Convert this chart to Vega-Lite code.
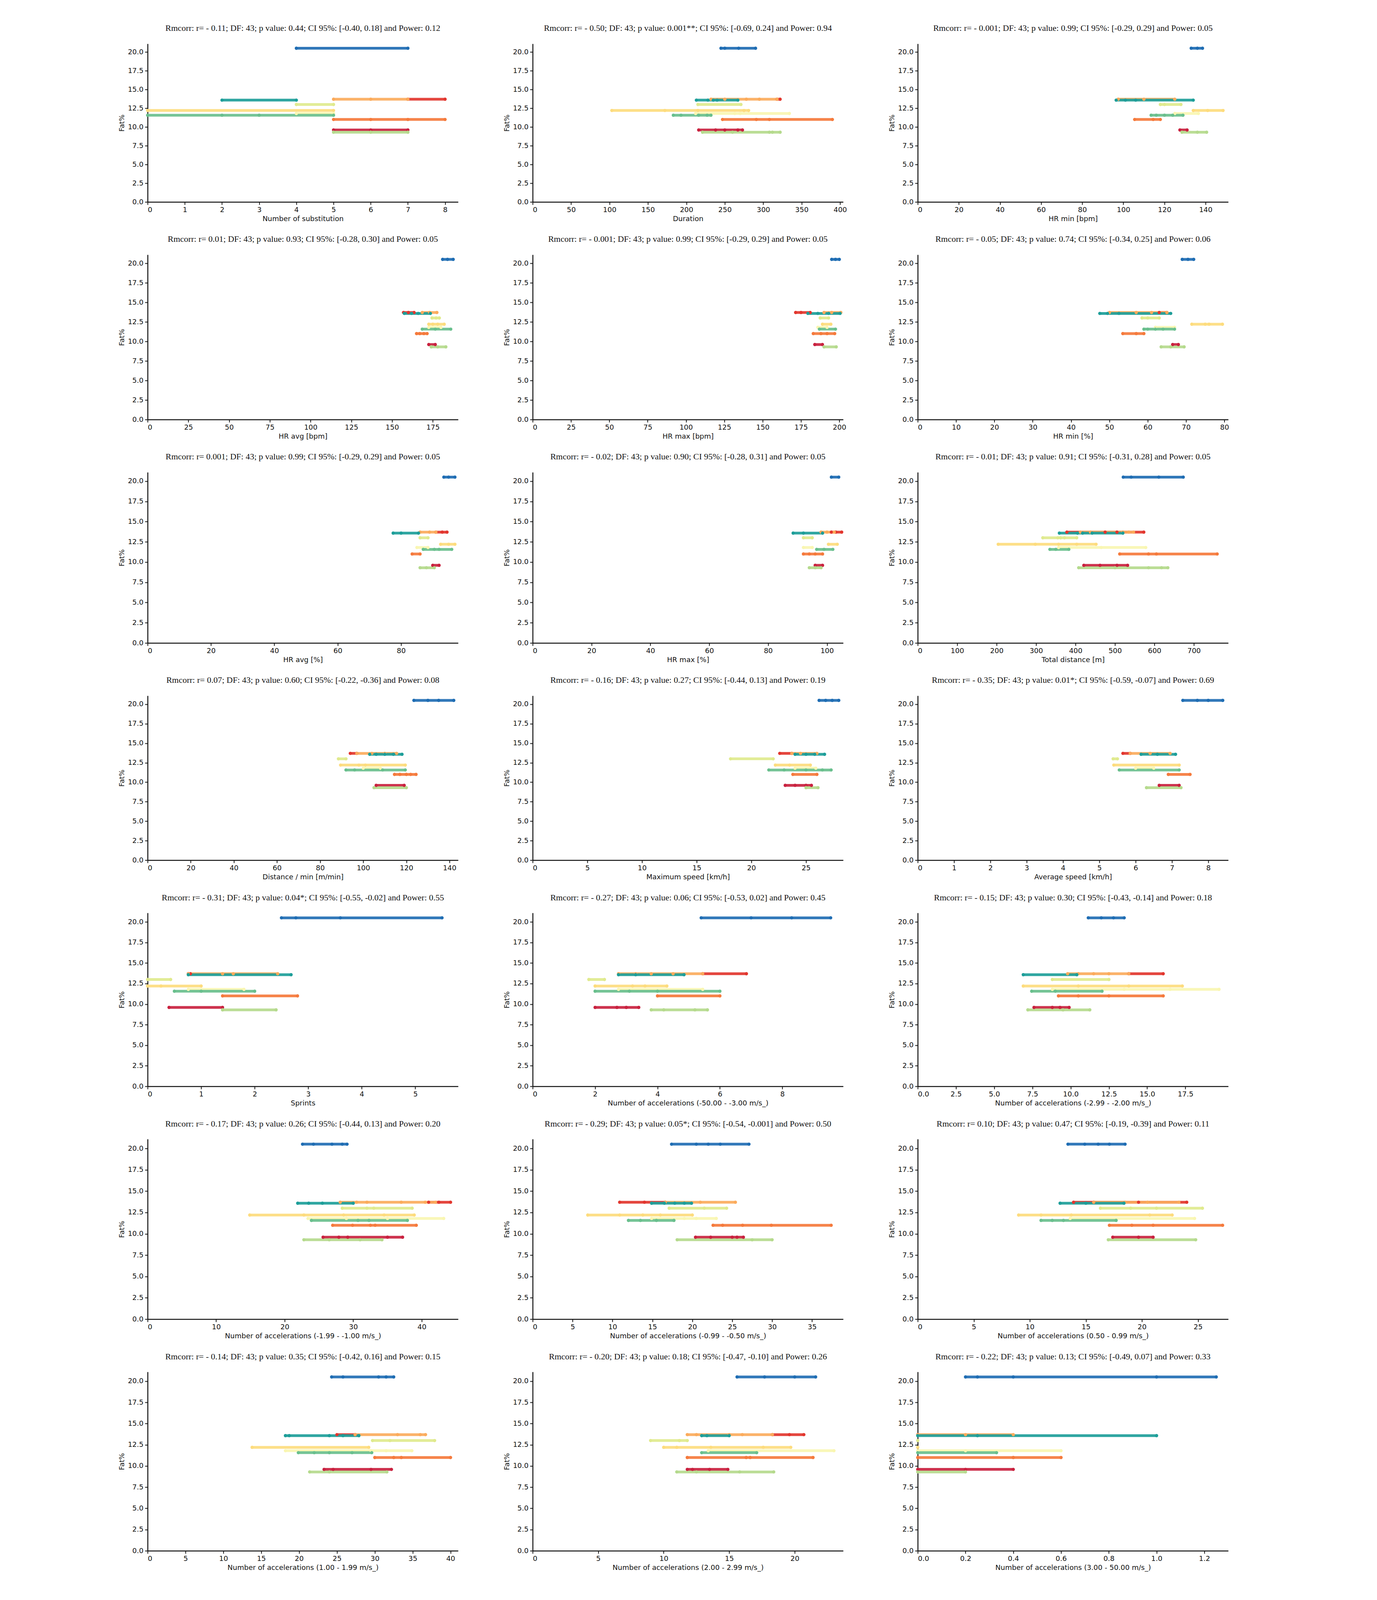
{
"$schema":"https://vega.github.io/schema/vega-lite/v6.json",
"background":"white",
"padding":{"left":303,"top":60,"right":10,"bottom":10},
"bounds":"flush",
"columns":3,
"spacing":{"row":135,"column":191},
"datasets":{
"subj":[{"s":"a","fat":20.5},{"s":"c","fat":13.7},{"s":"b","fat":13.7},{"s":"d","fat":13.58},{"s":"e","fat":13.0},{"s":"f","fat":12.2},{"s":"g","fat":11.8},{"s":"h","fat":11.57},{"s":"i","fat":11.0},{"s":"j","fat":9.6},{"s":"k","fat":9.3}],
"obs":[
{"p":1,"s":"a","xs":[4,7]},{"p":1,"s":"c","xs":[7,8]},{"p":1,"s":"b","xs":[5,6,7]},{"p":1,"s":"d","xs":[2,4]},{"p":1,"s":"e","xs":[4,5]},{"p":1,"s":"f","xs":[0,5]},{"p":1,"s":"g","xs":[4,5]},{"p":1,"s":"h","xs":[0,2,3,5]},{"p":1,"s":"i","xs":[5,6,7,8]},{"p":1,"s":"j","xs":[5,6,7]},{"p":1,"s":"k","xs":[5,6,7]},
{"p":2,"s":"a","xs":[245,250,268,290]},{"p":2,"s":"c","xs":[318,322]},{"p":2,"s":"b","xs":[232,250,278,295,318]},{"p":2,"s":"d","xs":[213,228,235,240,267]},{"p":2,"s":"e","xs":[215,271]},{"p":2,"s":"f","xs":[103,172,215,275,281]},{"p":2,"s":"g","xs":[212,263,270,334]},{"p":2,"s":"h","xs":[183,193,216,227,232]},{"p":2,"s":"i","xs":[247,291,308,390]},{"p":2,"s":"j","xs":[216,238,250,267,273]},{"p":2,"s":"k","xs":[221,260,308,312,322]},
{"p":3,"s":"a","xs":[133,136,138.5]},{"p":3,"s":"b","xs":[97.5,110,125]},{"p":3,"s":"d","xs":[96.5,101,106,134]},{"p":3,"s":"e","xs":[118,120,128]},{"p":3,"s":"f","xs":[134,141,148.5]},{"p":3,"s":"g","xs":[125,136.5]},{"p":3,"s":"h","xs":[113.5,116,120,124,129]},{"p":3,"s":"i","xs":[105.5,114.5,118]},{"p":3,"s":"j","xs":[127.5,131]},{"p":3,"s":"k","xs":[128.5,136,140.5]},
{"p":4,"s":"a","xs":[181,184,187.5]},{"p":4,"s":"c","xs":[157,160,163.5]},{"p":4,"s":"b","xs":[168.5,173,177.5]},{"p":4,"s":"d","xs":[157.5,162,166,173.5]},{"p":4,"s":"e","xs":[174.5,177,179]},{"p":4,"s":"f","xs":[172.5,175,178,182]},{"p":4,"s":"g","xs":[172.5,180]},{"p":4,"s":"h","xs":[168.5,176.5,186]},{"p":4,"s":"i","xs":[165,167,169.5,171.5]},{"p":4,"s":"j","xs":[172.5,176.5]},{"p":4,"s":"k","xs":[174,178,183]},
{"p":5,"s":"a","xs":[195,197.5,200]},{"p":5,"s":"c","xs":[171.5,175,181]},{"p":5,"s":"b","xs":[190,195,201]},{"p":5,"s":"d","xs":[179.5,186,193,200.5]},{"p":5,"s":"e","xs":[187.5,193]},{"p":5,"s":"f","xs":[189,194.5]},{"p":5,"s":"g","xs":[186,192]},{"p":5,"s":"h","xs":[187,197.5]},{"p":5,"s":"i","xs":[183,188,192,197]},{"p":5,"s":"j","xs":[184,189]},{"p":5,"s":"k","xs":[190,198]},
{"p":6,"s":"a","xs":[69,70.5,72]},{"p":6,"s":"c","xs":[63,65]},{"p":6,"s":"b","xs":[50,57,61,65]},{"p":6,"s":"d","xs":[47.5,49.5,52.5,66]},{"p":6,"s":"e","xs":[58.5,60,63]},{"p":6,"s":"f","xs":[71.5,75,76,79.5]},{"p":6,"s":"g","xs":[62,67]},{"p":6,"s":"h","xs":[59,60,62,64,67]},{"p":6,"s":"i","xs":[53.5,57,59]},{"p":6,"s":"j","xs":[66.5,68]},{"p":6,"s":"k","xs":[63.5,66,69.5]},
{"p":7,"s":"a","xs":[93.5,95,97]},{"p":7,"s":"c","xs":[91,93,94.5]},{"p":7,"s":"b","xs":[86,89,91]},{"p":7,"s":"d","xs":[77.5,80,85.5]},{"p":7,"s":"e","xs":[86,88.5]},{"p":7,"s":"f","xs":[92.5,95,97]},{"p":7,"s":"g","xs":[85,88.5]},{"p":7,"s":"h","xs":[87,90.5,92,96]},{"p":7,"s":"i","xs":[83.5,86]},{"p":7,"s":"j","xs":[90,92]},{"p":7,"s":"k","xs":[86,88,90.5]},
{"p":8,"s":"a","xs":[101.5,104]},{"p":8,"s":"c","xs":[101.5,103,105]},{"p":8,"s":"b","xs":[98,100,102.5]},{"p":8,"s":"d","xs":[88.5,92,98.5]},{"p":8,"s":"e","xs":[92,95]},{"p":8,"s":"f","xs":[100.5,103.5]},{"p":8,"s":"g","xs":[92,95]},{"p":8,"s":"h","xs":[96.5,99,102]},{"p":8,"s":"i","xs":[92,94,96,98.5]},{"p":8,"s":"j","xs":[96,98.5]},{"p":8,"s":"k","xs":[94,96,98]},
{"p":9,"s":"a","xs":[521,541,611,673]},{"p":9,"s":"c","xs":[378,475,505,573]},{"p":9,"s":"b","xs":[412,438,520,535,547]},{"p":9,"s":"d","xs":[359,405,418,442,520]},{"p":9,"s":"e","xs":[317,355,362,372,403]},{"p":9,"s":"f","xs":[204,298,357,403,452]},{"p":9,"s":"g","xs":[357,465,578]},{"p":9,"s":"h","xs":[335,350,383]},{"p":9,"s":"i","xs":[512,585,605,759]},{"p":9,"s":"j","xs":[421,462,505,532]},{"p":9,"s":"k","xs":[408,500,585,618,634]},
{"p":10,"s":"a","xs":[123.5,130,135,142]},{"p":10,"s":"c","xs":[94,97]},{"p":10,"s":"b","xs":[97,104,110,115.5]},{"p":10,"s":"d","xs":[103,106,110,114,118]},{"p":10,"s":"e","xs":[88.5,92]},{"p":10,"s":"f","xs":[89.5,98,101,119.5]},{"p":10,"s":"g","xs":[100,108]},{"p":10,"s":"h","xs":[92,96,109,119.5]},{"p":10,"s":"i","xs":[114.5,117,120,122,124.5]},{"p":10,"s":"j","xs":[106,119]},{"p":10,"s":"k","xs":[105,120]},
{"p":11,"s":"a","xs":[26.2,26.8,27.4,28]},{"p":11,"s":"c","xs":[22.6,23.7]},{"p":11,"s":"b","xs":[23.7,24.5,26]},{"p":11,"s":"d","xs":[24,25,25.8,26.7]},{"p":11,"s":"e","xs":[18.1,22]},{"p":11,"s":"f","xs":[22.2,23.5,25.4]},{"p":11,"s":"g","xs":[24,25.9]},{"p":11,"s":"h","xs":[21.6,23,25,26.5,27.3]},{"p":11,"s":"i","xs":[23.8,26]},{"p":11,"s":"j","xs":[23.1,24,25,25.5]},{"p":11,"s":"k","xs":[25,26.1]},
{"p":12,"s":"a","xs":[7.3,7.7,8.0,8.4]},{"p":12,"s":"c","xs":[5.65,5.85]},{"p":12,"s":"b","xs":[5.85,6.4,6.95]},{"p":12,"s":"d","xs":[6.15,6.6,7.1]},{"p":12,"s":"e","xs":[5.38,5.5]},{"p":12,"s":"f","xs":[5.4,7.2]},{"p":12,"s":"g","xs":[6,6.5]},{"p":12,"s":"h","xs":[5.55,7.2]},{"p":12,"s":"i","xs":[6.9,7.5]},{"p":12,"s":"j","xs":[6.65,7.2]},{"p":12,"s":"k","xs":[6.3,7.25]},
{"p":13,"s":"a","xs":[2.5,2.77,3.6,5.5]},{"p":13,"s":"c","xs":[0.76,0.8]},{"p":13,"s":"b","xs":[0.76,1.4,1.6,2.43]},{"p":13,"s":"d","xs":[0.76,2.68]},{"p":13,"s":"e","xs":[0,0.43]},{"p":13,"s":"f","xs":[0,0.25,1]},{"p":13,"s":"g","xs":[0.76,1.8]},{"p":13,"s":"h","xs":[0.5,1,2]},{"p":13,"s":"i","xs":[1.4,2.8]},{"p":13,"s":"j","xs":[0.4,1.4]},{"p":13,"s":"k","xs":[1.4,2.4]},
{"p":14,"s":"a","xs":[5.4,7.0,8.3,9.55]},{"p":14,"s":"c","xs":[5.45,6.85]},{"p":14,"s":"b","xs":[2.75,3.3,3.8,4.5,5.45]},{"p":14,"s":"d","xs":[2.75,3.3,4.85]},{"p":14,"s":"e","xs":[1.8,2.3]},{"p":14,"s":"f","xs":[2.0,3.2,3.6,4.3]},{"p":14,"s":"g","xs":[2.75,5.45]},{"p":14,"s":"h","xs":[2.0,3.1,4.0,6.0]},{"p":14,"s":"i","xs":[4.0,6.0]},{"p":14,"s":"j","xs":[2.0,2.7,3.0,3.4]},{"p":14,"s":"k","xs":[3.8,4.2,5.2,5.6]},
{"p":15,"s":"a","xs":[11.15,12,12.8,13.5]},{"p":15,"s":"c","xs":[13.8,16.05]},{"p":15,"s":"b","xs":[9.8,10.5,11.5,12.5,13.8]},{"p":15,"s":"d","xs":[6.9,10.4]},{"p":15,"s":"e","xs":[8.8,12.5]},{"p":15,"s":"f","xs":[6.9,10.5,13.8,17.3]},{"p":15,"s":"g","xs":[8.8,13.5,16.5,19.7]},{"p":15,"s":"h","xs":[7.45,9,12.05]},{"p":15,"s":"i","xs":[9.2,10.5,12.5,16.05]},{"p":15,"s":"j","xs":[7.6,8.8,9.3,9.9]},{"p":15,"s":"k","xs":[7.2,9.5,11.25]},
{"p":16,"s":"a","xs":[22.6,24.2,26.9,28.4,29.1]},{"p":16,"s":"c","xs":[41,42.5,44.2]},{"p":16,"s":"b","xs":[28.1,30.5,32,37,40.5,42]},{"p":16,"s":"d","xs":[21.9,23.5,25.5,30]},{"p":16,"s":"e","xs":[28.4,32,33,38.6]},{"p":16,"s":"f","xs":[14.9,22.8,28.6,34.5,38.9]},{"p":16,"s":"g","xs":[23.4,29,35,43.2]},{"p":16,"s":"h","xs":[23.9,30.7,32.3,37.9]},{"p":16,"s":"i","xs":[27,29.9,32.5,33.2,39.2]},{"p":16,"s":"j","xs":[25.6,27.9,29.2,35,37.2]},{"p":16,"s":"k","xs":[22.8,26.5,31,34.2]},
{"p":17,"s":"a","xs":[17.4,20.5,22,23.5,27.1]},{"p":17,"s":"c","xs":[10.9,14,16.6]},{"p":17,"s":"b","xs":[16.6,21,25.4]},{"p":17,"s":"d","xs":[14.9,16.5,17.8,19,19.9]},{"p":17,"s":"e","xs":[17.1,21.5,24.3]},{"p":17,"s":"f","xs":[6.9,10.9,13.8,16,20]},{"p":17,"s":"g","xs":[14.9,19,20.5,23]},{"p":17,"s":"h","xs":[12,13.5,15.5,17.7]},{"p":17,"s":"i","xs":[22.6,23.8,26.3,29.9,37.4]},{"p":17,"s":"j","xs":[20.4,22.3,25,25.6,26.4]},{"p":17,"s":"k","xs":[18.1,27.5,30]},
{"p":18,"s":"a","xs":[13.4,14.9,16.1,17.1,18.5]},{"p":18,"s":"c","xs":[13.9,15.7,19.7,24]},{"p":18,"s":"b","xs":[15.7,18.5,20.5,23.3]},{"p":18,"s":"d","xs":[12.7,15,18.4]},{"p":18,"s":"e","xs":[16.3,19,21.3,25.4]},{"p":18,"s":"f","xs":[9,11,13.7,20.7,22.7]},{"p":18,"s":"g","xs":[13.6,24.7]},{"p":18,"s":"h","xs":[11,12,13,17.7]},{"p":18,"s":"i","xs":[17.1,19.1,21,27.2]},{"p":18,"s":"j","xs":[17.4,19.7,21]},{"p":18,"s":"k","xs":[17,24.8]},
{"p":19,"s":"a","xs":[24.3,25.8,30.5,31.5,32.5]},{"p":19,"s":"c","xs":[25,27.4]},{"p":19,"s":"b","xs":[27.4,33,36,36.7]},{"p":19,"s":"d","xs":[18.2,18.7,24,25.8,27.9]},{"p":19,"s":"e","xs":[29.7,32,37.9]},{"p":19,"s":"f","xs":[13.8,29.2]},{"p":19,"s":"g","xs":[18.2,29.5,31.5,34.9]},{"p":19,"s":"h","xs":[19.9,22,24,27,29.6]},{"p":19,"s":"i","xs":[30,32.5,33.5,40]},{"p":19,"s":"j","xs":[23.3,24.5,29.5,32.2]},{"p":19,"s":"k","xs":[21.4,24,31.6]},
{"p":20,"s":"a","xs":[15.6,17.7,20,21.6]},{"p":20,"s":"c","xs":[18.3,19.6,20.7]},{"p":20,"s":"b","xs":[11.8,12.5,15,16,18.3]},{"p":20,"s":"d","xs":[12.9,13.3,15]},{"p":20,"s":"e","xs":[9,11.2,11.8]},{"p":20,"s":"f","xs":[10,11,13.6,17.6,19.7]},{"p":20,"s":"g","xs":[13.4,23]},{"p":20,"s":"h","xs":[12.9,17.1]},{"p":20,"s":"i","xs":[11.8,16.3,16.6,21.4]},{"p":20,"s":"j","xs":[11.8,12.2,13.5,14.9]},{"p":20,"s":"k","xs":[11,12.5,15.8,18.4]},
{"p":21,"s":"a","xs":[0.2,0.25,0.4,1.0,1.25]},{"p":21,"s":"c","xs":[0]},{"p":21,"s":"b","xs":[0,0.2,0.4]},{"p":21,"s":"d","xs":[0,0.25,1.0]},{"p":21,"s":"e","xs":[0]},{"p":21,"s":"f","xs":[0]},{"p":21,"s":"g","xs":[0,0.2,0.6]},{"p":21,"s":"h","xs":[0,0.33]},{"p":21,"s":"i","xs":[0,0.4,0.6]},{"p":21,"s":"j","xs":[0,0.2,0.4]},{"p":21,"s":"k","xs":[0,0.2]}
]},
"concat":[
{"title":"Rmcorr:  r= - 0.11; DF: 43;  p value: 0.44; CI 95%: [-0.40, 0.18] and Power: 0.12","width":795,"height":405,"data":{"name":"obs"},"transform":[{"filter":"datum.p==1"},{"flatten":["xs"],"as":["x"]},{"lookup":"s","from":{"data":{"name":"subj"},"key":"s","fields":["fat"]}}],"encoding":{"x":{"field":"x","type":"quantitative","scale":{"domain":[0,8.35],"nice":false,"zero":false},"axis":{"title":"Number of substitution","values":[0,1,2,3,4,5,6,7,8]}},"y":{"field":"fat","type":"quantitative","scale":{"domain":[0,21.1],"nice":false},"axis":{"title":"Fat%","values":[0,2.5,5,7.5,10,12.5,15,17.5,20],"format":".1f"}},"color":{"field":"s","type":"nominal","scale":{"domain":["a","c","b","d","e","f","g","h","i","j","k"],"range":["#1f6db3","#e2362e","#fbab5c","#1d9e99","#e0ea8e","#fddc7e","#f9f6b2","#69bf8d","#f57a3c","#c9223f","#b5da8d"]},"legend":null}},"layer":[{"mark":{"type":"line","strokeWidth":7,"opacity":0.92}},{"mark":{"type":"circle","size":70,"opacity":1}}]},
{"title":"Rmcorr:  r= - 0.50; DF: 43;  p value: 0.001**; CI 95%: [-0.69, 0.24] and Power: 0.94","width":795,"height":405,"data":{"name":"obs"},"transform":[{"filter":"datum.p==2"},{"flatten":["xs"],"as":["x"]},{"lookup":"s","from":{"data":{"name":"subj"},"key":"s","fields":["fat"]}}],"encoding":{"x":{"field":"x","type":"quantitative","scale":{"domain":[0,404],"nice":false,"zero":false},"axis":{"title":"Duration","values":[0,50,100,150,200,250,300,350,400]}},"y":{"field":"fat","type":"quantitative","scale":{"domain":[0,21.1],"nice":false},"axis":{"title":"Fat%","values":[0,2.5,5,7.5,10,12.5,15,17.5,20],"format":".1f"}},"color":{"field":"s","type":"nominal","scale":{"domain":["a","c","b","d","e","f","g","h","i","j","k"],"range":["#1f6db3","#e2362e","#fbab5c","#1d9e99","#e0ea8e","#fddc7e","#f9f6b2","#69bf8d","#f57a3c","#c9223f","#b5da8d"]},"legend":null}},"layer":[{"mark":{"type":"line","strokeWidth":7,"opacity":0.92}},{"mark":{"type":"circle","size":70,"opacity":1}}]},
{"title":"Rmcorr:  r= - 0.001; DF: 43;  p value: 0.99; CI 95%: [-0.29, 0.29] and Power: 0.05","width":795,"height":405,"data":{"name":"obs"},"transform":[{"filter":"datum.p==3"},{"flatten":["xs"],"as":["x"]},{"lookup":"s","from":{"data":{"name":"subj"},"key":"s","fields":["fat"]}}],"encoding":{"x":{"field":"x","type":"quantitative","scale":{"domain":[0,151],"nice":false,"zero":false},"axis":{"title":"HR min [bpm]","values":[0,20,40,60,80,100,120,140]}},"y":{"field":"fat","type":"quantitative","scale":{"domain":[0,21.1],"nice":false},"axis":{"title":"Fat%","values":[0,2.5,5,7.5,10,12.5,15,17.5,20],"format":".1f"}},"color":{"field":"s","type":"nominal","scale":{"domain":["a","c","b","d","e","f","g","h","i","j","k"],"range":["#1f6db3","#e2362e","#fbab5c","#1d9e99","#e0ea8e","#fddc7e","#f9f6b2","#69bf8d","#f57a3c","#c9223f","#b5da8d"]},"legend":null}},"layer":[{"mark":{"type":"line","strokeWidth":7,"opacity":0.92}},{"mark":{"type":"circle","size":70,"opacity":1}}]},
{"title":"Rmcorr:  r= 0.01; DF: 43;  p value: 0.93; CI 95%: [-0.28, 0.30] and Power: 0.05","width":795,"height":422,"data":{"name":"obs"},"transform":[{"filter":"datum.p==4"},{"flatten":["xs"],"as":["x"]},{"lookup":"s","from":{"data":{"name":"subj"},"key":"s","fields":["fat"]}}],"encoding":{"x":{"field":"x","type":"quantitative","scale":{"domain":[0,190.5],"nice":false,"zero":false},"axis":{"title":"HR avg [bpm]","values":[0,25,50,75,100,125,150,175]}},"y":{"field":"fat","type":"quantitative","scale":{"domain":[0,21.1],"nice":false},"axis":{"title":"Fat%","values":[0,2.5,5,7.5,10,12.5,15,17.5,20],"format":".1f"}},"color":{"field":"s","type":"nominal","scale":{"domain":["a","c","b","d","e","f","g","h","i","j","k"],"range":["#1f6db3","#e2362e","#fbab5c","#1d9e99","#e0ea8e","#fddc7e","#f9f6b2","#69bf8d","#f57a3c","#c9223f","#b5da8d"]},"legend":null}},"layer":[{"mark":{"type":"line","strokeWidth":7,"opacity":0.92}},{"mark":{"type":"circle","size":70,"opacity":1}}]},
{"title":"Rmcorr:  r= - 0.001; DF: 43;  p value: 0.99; CI 95%: [-0.29, 0.29] and Power: 0.05","width":795,"height":422,"data":{"name":"obs"},"transform":[{"filter":"datum.p==5"},{"flatten":["xs"],"as":["x"]},{"lookup":"s","from":{"data":{"name":"subj"},"key":"s","fields":["fat"]}}],"encoding":{"x":{"field":"x","type":"quantitative","scale":{"domain":[0,202.5],"nice":false,"zero":false},"axis":{"title":"HR max [bpm]","values":[0,25,50,75,100,125,150,175,200]}},"y":{"field":"fat","type":"quantitative","scale":{"domain":[0,21.1],"nice":false},"axis":{"title":"Fat%","values":[0,2.5,5,7.5,10,12.5,15,17.5,20],"format":".1f"}},"color":{"field":"s","type":"nominal","scale":{"domain":["a","c","b","d","e","f","g","h","i","j","k"],"range":["#1f6db3","#e2362e","#fbab5c","#1d9e99","#e0ea8e","#fddc7e","#f9f6b2","#69bf8d","#f57a3c","#c9223f","#b5da8d"]},"legend":null}},"layer":[{"mark":{"type":"line","strokeWidth":7,"opacity":0.92}},{"mark":{"type":"circle","size":70,"opacity":1}}]},
{"title":"Rmcorr:  r= - 0.05; DF: 43;  p value: 0.74; CI 95%: [-0.34, 0.25] and Power: 0.06","width":795,"height":422,"data":{"name":"obs"},"transform":[{"filter":"datum.p==6"},{"flatten":["xs"],"as":["x"]},{"lookup":"s","from":{"data":{"name":"subj"},"key":"s","fields":["fat"]}}],"encoding":{"x":{"field":"x","type":"quantitative","scale":{"domain":[0,81],"nice":false,"zero":false},"axis":{"title":"HR min [%]","values":[0,10,20,30,40,50,60,70,80]}},"y":{"field":"fat","type":"quantitative","scale":{"domain":[0,21.1],"nice":false},"axis":{"title":"Fat%","values":[0,2.5,5,7.5,10,12.5,15,17.5,20],"format":".1f"}},"color":{"field":"s","type":"nominal","scale":{"domain":["a","c","b","d","e","f","g","h","i","j","k"],"range":["#1f6db3","#e2362e","#fbab5c","#1d9e99","#e0ea8e","#fddc7e","#f9f6b2","#69bf8d","#f57a3c","#c9223f","#b5da8d"]},"legend":null}},"layer":[{"mark":{"type":"line","strokeWidth":7,"opacity":0.92}},{"mark":{"type":"circle","size":70,"opacity":1}}]},
{"title":"Rmcorr:  r= 0.001; DF: 43;  p value: 0.99; CI 95%: [-0.29, 0.29] and Power: 0.05","width":795,"height":437,"data":{"name":"obs"},"transform":[{"filter":"datum.p==7"},{"flatten":["xs"],"as":["x"]},{"lookup":"s","from":{"data":{"name":"subj"},"key":"s","fields":["fat"]}}],"encoding":{"x":{"field":"x","type":"quantitative","scale":{"domain":[0,98],"nice":false,"zero":false},"axis":{"title":"HR avg [%]","values":[0,20,40,60,80]}},"y":{"field":"fat","type":"quantitative","scale":{"domain":[0,21.1],"nice":false},"axis":{"title":"Fat%","values":[0,2.5,5,7.5,10,12.5,15,17.5,20],"format":".1f"}},"color":{"field":"s","type":"nominal","scale":{"domain":["a","c","b","d","e","f","g","h","i","j","k"],"range":["#1f6db3","#e2362e","#fbab5c","#1d9e99","#e0ea8e","#fddc7e","#f9f6b2","#69bf8d","#f57a3c","#c9223f","#b5da8d"]},"legend":null}},"layer":[{"mark":{"type":"line","strokeWidth":7,"opacity":0.92}},{"mark":{"type":"circle","size":70,"opacity":1}}]},
{"title":"Rmcorr:  r= - 0.02; DF: 43;  p value: 0.90; CI 95%: [-0.28, 0.31] and Power: 0.05","width":795,"height":437,"data":{"name":"obs"},"transform":[{"filter":"datum.p==8"},{"flatten":["xs"],"as":["x"]},{"lookup":"s","from":{"data":{"name":"subj"},"key":"s","fields":["fat"]}}],"encoding":{"x":{"field":"x","type":"quantitative","scale":{"domain":[0,105.5],"nice":false,"zero":false},"axis":{"title":"HR max [%]","values":[0,20,40,60,80,100]}},"y":{"field":"fat","type":"quantitative","scale":{"domain":[0,21.1],"nice":false},"axis":{"title":"Fat%","values":[0,2.5,5,7.5,10,12.5,15,17.5,20],"format":".1f"}},"color":{"field":"s","type":"nominal","scale":{"domain":["a","c","b","d","e","f","g","h","i","j","k"],"range":["#1f6db3","#e2362e","#fbab5c","#1d9e99","#e0ea8e","#fddc7e","#f9f6b2","#69bf8d","#f57a3c","#c9223f","#b5da8d"]},"legend":null}},"layer":[{"mark":{"type":"line","strokeWidth":7,"opacity":0.92}},{"mark":{"type":"circle","size":70,"opacity":1}}]},
{"title":"Rmcorr:  r= - 0.01; DF: 43;  p value: 0.91; CI 95%: [-0.31, 0.28] and Power: 0.05","width":795,"height":437,"data":{"name":"obs"},"transform":[{"filter":"datum.p==9"},{"flatten":["xs"],"as":["x"]},{"lookup":"s","from":{"data":{"name":"subj"},"key":"s","fields":["fat"]}}],"encoding":{"x":{"field":"x","type":"quantitative","scale":{"domain":[0,787],"nice":false,"zero":false},"axis":{"title":"Total distance [m]","values":[0,100,200,300,400,500,600,700]}},"y":{"field":"fat","type":"quantitative","scale":{"domain":[0,21.1],"nice":false},"axis":{"title":"Fat%","values":[0,2.5,5,7.5,10,12.5,15,17.5,20],"format":".1f"}},"color":{"field":"s","type":"nominal","scale":{"domain":["a","c","b","d","e","f","g","h","i","j","k"],"range":["#1f6db3","#e2362e","#fbab5c","#1d9e99","#e0ea8e","#fddc7e","#f9f6b2","#69bf8d","#f57a3c","#c9223f","#b5da8d"]},"legend":null}},"layer":[{"mark":{"type":"line","strokeWidth":7,"opacity":0.92}},{"mark":{"type":"circle","size":70,"opacity":1}}]},
{"title":"Rmcorr:  r= 0.07; DF: 43;  p value: 0.60; CI 95%: [-0.22, -0.36] and Power: 0.08","width":795,"height":421,"data":{"name":"obs"},"transform":[{"filter":"datum.p==10"},{"flatten":["xs"],"as":["x"]},{"lookup":"s","from":{"data":{"name":"subj"},"key":"s","fields":["fat"]}}],"encoding":{"x":{"field":"x","type":"quantitative","scale":{"domain":[0,144],"nice":false,"zero":false},"axis":{"title":"Distance / min [m/min]","values":[0,20,40,60,80,100,120,140]}},"y":{"field":"fat","type":"quantitative","scale":{"domain":[0,21.1],"nice":false},"axis":{"title":"Fat%","values":[0,2.5,5,7.5,10,12.5,15,17.5,20],"format":".1f"}},"color":{"field":"s","type":"nominal","scale":{"domain":["a","c","b","d","e","f","g","h","i","j","k"],"range":["#1f6db3","#e2362e","#fbab5c","#1d9e99","#e0ea8e","#fddc7e","#f9f6b2","#69bf8d","#f57a3c","#c9223f","#b5da8d"]},"legend":null}},"layer":[{"mark":{"type":"line","strokeWidth":7,"opacity":0.92}},{"mark":{"type":"circle","size":70,"opacity":1}}]},
{"title":"Rmcorr:  r= - 0.16; DF: 43;  p value: 0.27; CI 95%: [-0.44, 0.13] and Power: 0.19","width":795,"height":421,"data":{"name":"obs"},"transform":[{"filter":"datum.p==11"},{"flatten":["xs"],"as":["x"]},{"lookup":"s","from":{"data":{"name":"subj"},"key":"s","fields":["fat"]}}],"encoding":{"x":{"field":"x","type":"quantitative","scale":{"domain":[0,28.4],"nice":false,"zero":false},"axis":{"title":"Maximum speed [km/h]","values":[0,5,10,15,20,25]}},"y":{"field":"fat","type":"quantitative","scale":{"domain":[0,21.1],"nice":false},"axis":{"title":"Fat%","values":[0,2.5,5,7.5,10,12.5,15,17.5,20],"format":".1f"}},"color":{"field":"s","type":"nominal","scale":{"domain":["a","c","b","d","e","f","g","h","i","j","k"],"range":["#1f6db3","#e2362e","#fbab5c","#1d9e99","#e0ea8e","#fddc7e","#f9f6b2","#69bf8d","#f57a3c","#c9223f","#b5da8d"]},"legend":null}},"layer":[{"mark":{"type":"line","strokeWidth":7,"opacity":0.92}},{"mark":{"type":"circle","size":70,"opacity":1}}]},
{"title":"Rmcorr:  r= - 0.35; DF: 43;  p value: 0.01*; CI 95%: [-0.59, -0.07] and Power: 0.69","width":795,"height":421,"data":{"name":"obs"},"transform":[{"filter":"datum.p==12"},{"flatten":["xs"],"as":["x"]},{"lookup":"s","from":{"data":{"name":"subj"},"key":"s","fields":["fat"]}}],"encoding":{"x":{"field":"x","type":"quantitative","scale":{"domain":[0,8.55],"nice":false,"zero":false},"axis":{"title":"Average speed [km/h]","values":[0,1,2,3,4,5,6,7,8]}},"y":{"field":"fat","type":"quantitative","scale":{"domain":[0,21.1],"nice":false},"axis":{"title":"Fat%","values":[0,2.5,5,7.5,10,12.5,15,17.5,20],"format":".1f"}},"color":{"field":"s","type":"nominal","scale":{"domain":["a","c","b","d","e","f","g","h","i","j","k"],"range":["#1f6db3","#e2362e","#fbab5c","#1d9e99","#e0ea8e","#fddc7e","#f9f6b2","#69bf8d","#f57a3c","#c9223f","#b5da8d"]},"legend":null}},"layer":[{"mark":{"type":"line","strokeWidth":7,"opacity":0.92}},{"mark":{"type":"circle","size":70,"opacity":1}}]},
{"title":"Rmcorr:  r= - 0.31; DF: 43;  p value: 0.04*; CI 95%: [-0.55, -0.02] and Power: 0.55","width":795,"height":444,"data":{"name":"obs"},"transform":[{"filter":"datum.p==13"},{"flatten":["xs"],"as":["x"]},{"lookup":"s","from":{"data":{"name":"subj"},"key":"s","fields":["fat"]}}],"encoding":{"x":{"field":"x","type":"quantitative","scale":{"domain":[0,5.8],"nice":false,"zero":false},"axis":{"title":"Sprints","values":[0,1,2,3,4,5]}},"y":{"field":"fat","type":"quantitative","scale":{"domain":[0,21.1],"nice":false},"axis":{"title":"Fat%","values":[0,2.5,5,7.5,10,12.5,15,17.5,20],"format":".1f"}},"color":{"field":"s","type":"nominal","scale":{"domain":["a","c","b","d","e","f","g","h","i","j","k"],"range":["#1f6db3","#e2362e","#fbab5c","#1d9e99","#e0ea8e","#fddc7e","#f9f6b2","#69bf8d","#f57a3c","#c9223f","#b5da8d"]},"legend":null}},"layer":[{"mark":{"type":"line","strokeWidth":7,"opacity":0.92}},{"mark":{"type":"circle","size":70,"opacity":1}}]},
{"title":"Rmcorr:  r= - 0.27; DF: 43;  p value: 0.06; CI 95%: [-0.53, 0.02] and Power: 0.45","width":795,"height":444,"data":{"name":"obs"},"transform":[{"filter":"datum.p==14"},{"flatten":["xs"],"as":["x"]},{"lookup":"s","from":{"data":{"name":"subj"},"key":"s","fields":["fat"]}}],"encoding":{"x":{"field":"x","type":"quantitative","scale":{"domain":[0,9.95],"nice":false,"zero":false},"axis":{"title":"Number of accelerations (-50.00 - -3.00 m/s_)","values":[0,2,4,6,8]}},"y":{"field":"fat","type":"quantitative","scale":{"domain":[0,21.1],"nice":false},"axis":{"title":"Fat%","values":[0,2.5,5,7.5,10,12.5,15,17.5,20],"format":".1f"}},"color":{"field":"s","type":"nominal","scale":{"domain":["a","c","b","d","e","f","g","h","i","j","k"],"range":["#1f6db3","#e2362e","#fbab5c","#1d9e99","#e0ea8e","#fddc7e","#f9f6b2","#69bf8d","#f57a3c","#c9223f","#b5da8d"]},"legend":null}},"layer":[{"mark":{"type":"line","strokeWidth":7,"opacity":0.92}},{"mark":{"type":"circle","size":70,"opacity":1}}]},
{"title":"Rmcorr:  r= - 0.15; DF: 43;  p value: 0.30; CI 95%: [-0.43, -0.14] and Power: 0.18","width":795,"height":444,"data":{"name":"obs"},"transform":[{"filter":"datum.p==15"},{"flatten":["xs"],"as":["x"]},{"lookup":"s","from":{"data":{"name":"subj"},"key":"s","fields":["fat"]}}],"encoding":{"x":{"field":"x","type":"quantitative","scale":{"domain":[0,20.3],"nice":false,"zero":false},"axis":{"title":"Number of accelerations (-2.99 - -2.00 m/s_)","values":[0,2.5,5,7.5,10,12.5,15,17.5],"format":".1f"}},"y":{"field":"fat","type":"quantitative","scale":{"domain":[0,21.1],"nice":false},"axis":{"title":"Fat%","values":[0,2.5,5,7.5,10,12.5,15,17.5,20],"format":".1f"}},"color":{"field":"s","type":"nominal","scale":{"domain":["a","c","b","d","e","f","g","h","i","j","k"],"range":["#1f6db3","#e2362e","#fbab5c","#1d9e99","#e0ea8e","#fddc7e","#f9f6b2","#69bf8d","#f57a3c","#c9223f","#b5da8d"]},"legend":null}},"layer":[{"mark":{"type":"line","strokeWidth":7,"opacity":0.92}},{"mark":{"type":"circle","size":70,"opacity":1}}]},
{"title":"Rmcorr:  r= - 0.17; DF: 43;  p value: 0.26; CI 95%: [-0.44, 0.13] and Power: 0.20","width":795,"height":461,"data":{"name":"obs"},"transform":[{"filter":"datum.p==16"},{"flatten":["xs"],"as":["x"]},{"lookup":"s","from":{"data":{"name":"subj"},"key":"s","fields":["fat"]}}],"encoding":{"x":{"field":"x","type":"quantitative","scale":{"domain":[0,45.3],"nice":false,"zero":false},"axis":{"title":"Number of accelerations (-1.99 - -1.00 m/s_)","values":[0,10,20,30,40]}},"y":{"field":"fat","type":"quantitative","scale":{"domain":[0,21.1],"nice":false},"axis":{"title":"Fat%","values":[0,2.5,5,7.5,10,12.5,15,17.5,20],"format":".1f"}},"color":{"field":"s","type":"nominal","scale":{"domain":["a","c","b","d","e","f","g","h","i","j","k"],"range":["#1f6db3","#e2362e","#fbab5c","#1d9e99","#e0ea8e","#fddc7e","#f9f6b2","#69bf8d","#f57a3c","#c9223f","#b5da8d"]},"legend":null}},"layer":[{"mark":{"type":"line","strokeWidth":7,"opacity":0.92}},{"mark":{"type":"circle","size":70,"opacity":1}}]},
{"title":"Rmcorr:  r= - 0.29; DF: 43;  p value: 0.05*; CI 95%: [-0.54, -0.001] and Power: 0.50","width":795,"height":461,"data":{"name":"obs"},"transform":[{"filter":"datum.p==17"},{"flatten":["xs"],"as":["x"]},{"lookup":"s","from":{"data":{"name":"subj"},"key":"s","fields":["fat"]}}],"encoding":{"x":{"field":"x","type":"quantitative","scale":{"domain":[0,38.9],"nice":false,"zero":false},"axis":{"title":"Number of accelerations (-0.99 - -0.50 m/s_)","values":[0,5,10,15,20,25,30,35]}},"y":{"field":"fat","type":"quantitative","scale":{"domain":[0,21.1],"nice":false},"axis":{"title":"Fat%","values":[0,2.5,5,7.5,10,12.5,15,17.5,20],"format":".1f"}},"color":{"field":"s","type":"nominal","scale":{"domain":["a","c","b","d","e","f","g","h","i","j","k"],"range":["#1f6db3","#e2362e","#fbab5c","#1d9e99","#e0ea8e","#fddc7e","#f9f6b2","#69bf8d","#f57a3c","#c9223f","#b5da8d"]},"legend":null}},"layer":[{"mark":{"type":"line","strokeWidth":7,"opacity":0.92}},{"mark":{"type":"circle","size":70,"opacity":1}}]},
{"title":"Rmcorr:  r= 0.10; DF: 43;  p value: 0.47; CI 95%: [-0.19, -0.39] and Power: 0.11","width":795,"height":461,"data":{"name":"obs"},"transform":[{"filter":"datum.p==18"},{"flatten":["xs"],"as":["x"]},{"lookup":"s","from":{"data":{"name":"subj"},"key":"s","fields":["fat"]}}],"encoding":{"x":{"field":"x","type":"quantitative","scale":{"domain":[0,27.7],"nice":false,"zero":false},"axis":{"title":"Number of accelerations (0.50 - 0.99 m/s_)","values":[0,5,10,15,20,25]}},"y":{"field":"fat","type":"quantitative","scale":{"domain":[0,21.1],"nice":false},"axis":{"title":"Fat%","values":[0,2.5,5,7.5,10,12.5,15,17.5,20],"format":".1f"}},"color":{"field":"s","type":"nominal","scale":{"domain":["a","c","b","d","e","f","g","h","i","j","k"],"range":["#1f6db3","#e2362e","#fbab5c","#1d9e99","#e0ea8e","#fddc7e","#f9f6b2","#69bf8d","#f57a3c","#c9223f","#b5da8d"]},"legend":null}},"layer":[{"mark":{"type":"line","strokeWidth":7,"opacity":0.92}},{"mark":{"type":"circle","size":70,"opacity":1}}]},
{"title":"Rmcorr:  r= - 0.14; DF: 43;  p value: 0.35; CI 95%: [-0.42, 0.16] and Power: 0.15","width":795,"height":458,"data":{"name":"obs"},"transform":[{"filter":"datum.p==19"},{"flatten":["xs"],"as":["x"]},{"lookup":"s","from":{"data":{"name":"subj"},"key":"s","fields":["fat"]}}],"encoding":{"x":{"field":"x","type":"quantitative","scale":{"domain":[0,41],"nice":false,"zero":false},"axis":{"title":"Number of accelerations (1.00 - 1.99 m/s_)","values":[0,5,10,15,20,25,30,35,40]}},"y":{"field":"fat","type":"quantitative","scale":{"domain":[0,21.1],"nice":false},"axis":{"title":"Fat%","values":[0,2.5,5,7.5,10,12.5,15,17.5,20],"format":".1f"}},"color":{"field":"s","type":"nominal","scale":{"domain":["a","c","b","d","e","f","g","h","i","j","k"],"range":["#1f6db3","#e2362e","#fbab5c","#1d9e99","#e0ea8e","#fddc7e","#f9f6b2","#69bf8d","#f57a3c","#c9223f","#b5da8d"]},"legend":null}},"layer":[{"mark":{"type":"line","strokeWidth":7,"opacity":0.92}},{"mark":{"type":"circle","size":70,"opacity":1}}]},
{"title":"Rmcorr:  r= - 0.20; DF: 43;  p value: 0.18; CI 95%: [-0.47, -0.10] and Power: 0.26","width":795,"height":458,"data":{"name":"obs"},"transform":[{"filter":"datum.p==20"},{"flatten":["xs"],"as":["x"]},{"lookup":"s","from":{"data":{"name":"subj"},"key":"s","fields":["fat"]}}],"encoding":{"x":{"field":"x","type":"quantitative","scale":{"domain":[0,23.7],"nice":false,"zero":false},"axis":{"title":"Number of accelerations (2.00 - 2.99 m/s_)","values":[0,5,10,15,20]}},"y":{"field":"fat","type":"quantitative","scale":{"domain":[0,21.1],"nice":false},"axis":{"title":"Fat%","values":[0,2.5,5,7.5,10,12.5,15,17.5,20],"format":".1f"}},"color":{"field":"s","type":"nominal","scale":{"domain":["a","c","b","d","e","f","g","h","i","j","k"],"range":["#1f6db3","#e2362e","#fbab5c","#1d9e99","#e0ea8e","#fddc7e","#f9f6b2","#69bf8d","#f57a3c","#c9223f","#b5da8d"]},"legend":null}},"layer":[{"mark":{"type":"line","strokeWidth":7,"opacity":0.92}},{"mark":{"type":"circle","size":70,"opacity":1}}]},
{"title":"Rmcorr:  r= - 0.22; DF: 43;  p value: 0.13; CI 95%: [-0.49, 0.07] and Power: 0.33","width":795,"height":458,"data":{"name":"obs"},"transform":[{"filter":"datum.p==21"},{"flatten":["xs"],"as":["x"]},{"lookup":"s","from":{"data":{"name":"subj"},"key":"s","fields":["fat"]}}],"encoding":{"x":{"field":"x","type":"quantitative","scale":{"domain":[0,1.3],"nice":false,"zero":false},"axis":{"title":"Number of accelerations (3.00 - 50.00 m/s_)","values":[0,0.2,0.4,0.6,0.8,1.0,1.2],"format":".1f"}},"y":{"field":"fat","type":"quantitative","scale":{"domain":[0,21.1],"nice":false},"axis":{"title":"Fat%","values":[0,2.5,5,7.5,10,12.5,15,17.5,20],"format":".1f"}},"color":{"field":"s","type":"nominal","scale":{"domain":["a","c","b","d","e","f","g","h","i","j","k"],"range":["#1f6db3","#e2362e","#fbab5c","#1d9e99","#e0ea8e","#fddc7e","#f9f6b2","#69bf8d","#f57a3c","#c9223f","#b5da8d"]},"legend":null}},"layer":[{"mark":{"type":"line","strokeWidth":7,"opacity":0.92}},{"mark":{"type":"circle","size":70,"opacity":1}}]}
],
"config":{
"view":{"stroke":null},
"axis":{"labelFont":"DejaVu Sans","titleFont":"DejaVu Sans","labelFontSize":18,"titleFontSize":18,"titleFontWeight":"normal","labelColor":"#111111","titleColor":"#111111","domainColor":"#111111","tickColor":"#111111","domainWidth":2.5,"tickWidth":2,"tickSize":7,"grid":false,"labelPadding":4,"titlePadding":5},
"title":{"font":"Liberation Serif","fontSize":22,"fontWeight":"normal","color":"#111111","anchor":"middle","offset":26}
}
}
